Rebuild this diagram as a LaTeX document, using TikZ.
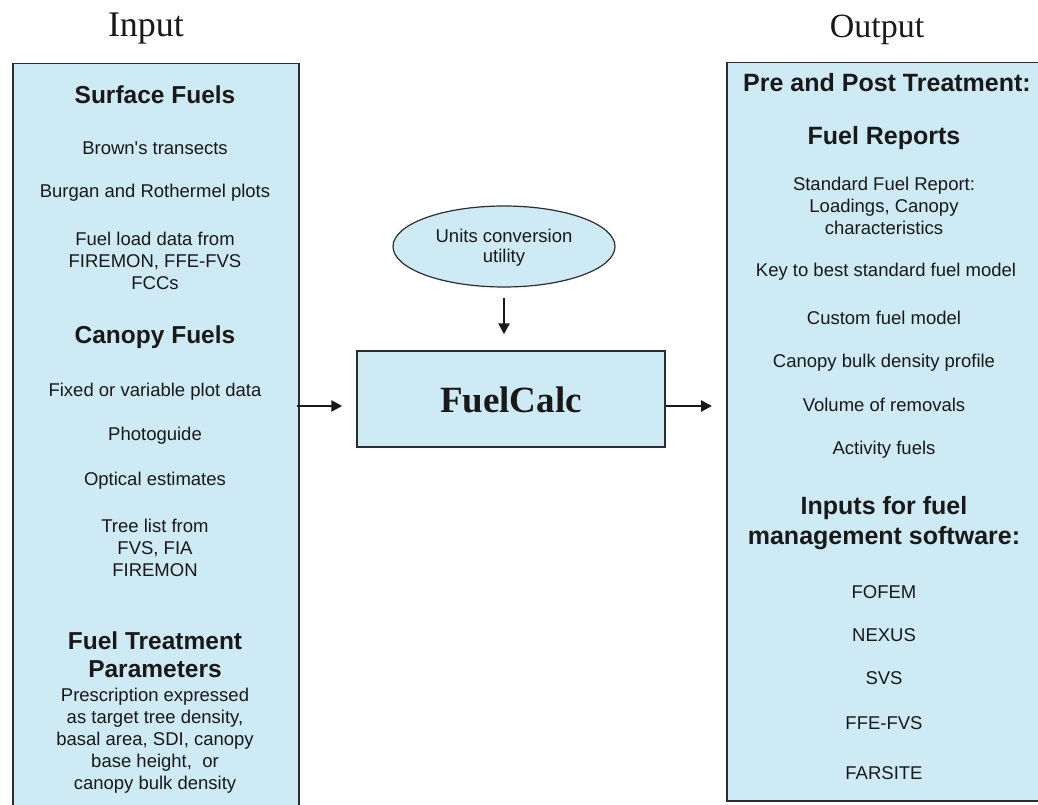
\documentclass[tikz,border=0pt]{standalone}
\usepackage{fontspec}
\setmainfont{Liberation Sans}
\newfontfamily\serifttl{Liberation Serif}
\usetikzlibrary{arrows.meta,shapes.geometric}
\definecolor{boxfill}{RGB}{206,234,244}
\definecolor{boxline}{RGB}{45,45,45}
\definecolor{ink}{RGB}{25,25,25}
\tikzset{
  panel/.style={draw=boxline, line width=1.5pt, fill=boxfill, inner sep=0pt},
  hd/.style={inner sep=0pt, align=center, text=ink, font=\fontsize{24.5}{28}\selectfont\bfseries},
  tx/.style={inner sep=0pt, align=center, text=ink, font=\fontsize{18.5}{22}\selectfont},
  ttl/.style={inner sep=0pt, anchor=base, text=ink, font=\fontsize{36}{40}\selectfont\serifttl},
  arr/.style={draw=ink, line width=2.6pt, -{Triangle[length=11pt,width=11pt]}}
}
\begin{document}
\begin{tikzpicture}[x=1pt,y=-1pt]
\begin{scope}
\clip (0,0) rectangle (1038,805);
\fill[white] (0,0) rectangle (1038,805);
% titles
\node[ttl] (tin) at (146,37) {Input};
\node[ttl, font=\fontsize{34}{40}\selectfont\serifttl] (tout) at (877,38) {Output};
% panels
\node[panel, anchor=north west, minimum width=286, minimum height=760] (inbox) at (12,63) {};
\node[panel, anchor=north west, minimum width=330, minimum height=738] (outbox) at (726,62) {};
% left content
\node[hd] (sf) at (155,95) {Surface Fuels};
\node[tx] (l1) at (155,148) {Brown\textquotesingle s transects};
\node[tx] (l2) at (155,193) {Burgan and Rothermel plots};
\node[tx] (l3) at (155,261) {Fuel load data from\\FIREMON, FFE-FVS\\FCCs};
\node[hd] (cf) at (155,337) {Canopy Fuels};
\node[tx] (l4) at (155,392) {Fixed or variable plot data};
\node[tx] (l5) at (155,436) {Photoguide};
\node[tx] (l6) at (155,481) {Optical estimates};
\node[tx] (l7) at (155,548) {Tree list from\\FVS, FIA\\FIREMON};
\node[hd] (ft) at (155,655) {Fuel Treatment\\Parameters};
\node[tx] (l8) at (155,741) {Prescription expressed\\as target tree density,\\basal area, SDI, canopy\\base height,\ \ or\\canopy bulk density};
% right content
\node[hd, font=\fontsize{25}{28}\selectfont\bfseries] (pp) at (887,83) {Pre and Post Treatment:};
\node[hd, font=\fontsize{25}{28}\selectfont\bfseries] (fr) at (884,138) {Fuel Reports};
\node[tx] (r1) at (884,206) {Standard Fuel Report:\\Loadings, Canopy\\characteristics};
\node[tx] (r2) at (886,272) {Key to best standard fuel model};
\node[tx] (r3) at (884,318) {Custom fuel model};
\node[tx] (r4) at (884,363) {Canopy bulk density profile};
\node[tx] (r5) at (884,405) {Volume of removals};
\node[tx] (r6) at (884,450) {Activity fuels};
\node[hd, font=\fontsize{25}{30}\selectfont\bfseries] (ifm) at (884,523) {Inputs for fuel\\management software:};
\node[tx] (s1) at (884,592) {FOFEM};
\node[tx] (s2) at (884,635) {NEXUS};
\node[tx] (s3) at (884,678) {SVS};
\node[tx] (s4) at (884,723) {FFE-FVS};
\node[tx] (s5) at (884,773) {FARSITE};
% centre
\node[panel, ellipse, line width=1.2pt, minimum width=222, minimum height=81] (units) at (504,246.5) {};
\node[tx, font=\fontsize{18.5}{20}\selectfont] (ut) at (504,248) {Units conversion\\utility};
\node[panel, minimum width=308, minimum height=96] (calc) at (511,399) {};
\node[inner sep=0pt, text=ink, font=\fontsize{37}{40}\selectfont\serifttl\bfseries] (ct) at (511,400) {FuelCalc};
% connectors
\draw[arr, shorten <=10pt, shorten >=16pt] (units.south) -- (units.south |- calc.north);
\draw[arr, shorten <=-3pt, shorten >=14pt] ([yshift=-7pt]inbox.east |- calc.west) -- ([yshift=-7pt]calc.west);
\draw[arr, shorten >=14pt] ([yshift=-7pt]calc.east) -- ([yshift=-7pt]outbox.west |- calc.east);
\end{scope}
\pgfresetboundingbox
\useasboundingbox (0,0) rectangle (1038,805);
\end{tikzpicture}
\end{document}
